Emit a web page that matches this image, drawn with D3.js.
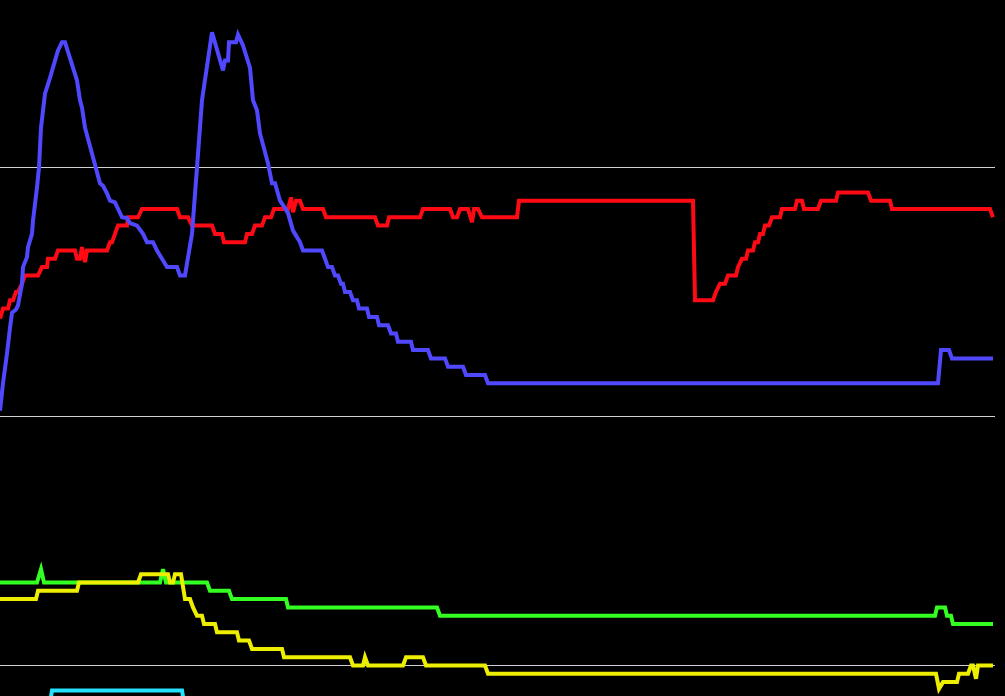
<!DOCTYPE html>
<html><head><meta charset="utf-8">
<script src="https://cdn.jsdelivr.net/npm/d3@7"></script>
<style>html,body{margin:0;padding:0;background:#000;overflow:hidden}</style>
</head><body>
<script>
// x: sample position, y: value
const blueX = [0,0.3,0.7,1.0,1.2,1.6,1.8,2.2,2.3,2.7,2.8,3.2,3.3,3.7,3.9,4.1,4.5,5.0,5.7,5.8,6.2,6.5,7.7,8.0,8.2,8.5,10.0,10.3,10.7,11.0,11.5,12.2,12.7,13.0,13.7,14.3,14.7,15.3,15.7,16.2,16.7,17.7,18.0,18.5,19.2,19.7,20.2,21.2,22.3,22.5,22.8,22.9,23.6,23.8,24.3,25.0,25.3,25.7,26.0,26.8,27.2,27.5,28.0,28.5,28.8,29.3,29.5,30.0,30.3,32.2,32.5,32.8,33.2,33.5,33.8,34.1,34.3,34.5,35.0,35.3,35.7,35.9,36.7,36.9,37.7,37.9,38.8,39.1,39.6,39.8,41.1,41.3,42.8,43.1,44.5,44.8,46.3,46.6,48.5,48.8,93.8,94.1,94.9,95.2,99.3];
const blueY = [30.7,34.0,37.6,40.7,42.5,42.9,43.4,46.0,48.0,49.2,50.4,52.0,53.6,57.6,60.0,64.8,68.9,70.8,73.7,74.1,75.1,75.1,70.5,68.1,67.2,64.8,58.1,57.8,56.9,56.0,55.8,54.0,53.9,53.3,53.0,52.0,51.0,51.0,50.0,49.0,48.0,48.0,47.0,47.0,52.0,60.0,68.1,76.3,71.7,72.9,72.9,75.1,75.1,76.0,74.7,72.0,68.1,66.9,64.1,60.5,58.1,58.1,56.0,55.1,54.5,52.4,52.0,51.0,50,50,49,48,48,47,47,46,46,45,45,44,44,43,43,42,42,41,41,40,40,39,39,38,38,37,37,36,36,35,35,34,34,38,38,37,37];

const redX = [0,0.3,0.8,1.0,1.3,1.6,1.8,2.2,2.5,3.8,4.2,4.7,4.8,5.5,5.8,7.5,7.7,8.0,8.2,8.5,8.7,10.7,11.0,11.2,11.5,11.8,12.7,12.8,13.8,14.2,17.7,18.0,18.8,19.2,21.2,21.5,22.2,22.4,24.5,24.7,25.2,25.5,26.2,26.5,27.1,27.4,28.8,29.1,29.3,29.6,30.0,30.3,32.3,32.6,37.5,37.8,38.7,38.9,42.0,42.3,45.0,45.3,45.7,46.0,46.8,47.2,47.4,47.8,48.2,51.7,51.9,69.3,69.5,71.3,71.6,72.0,72.5,72.8,73.6,73.8,74.2,74.6,74.8,75.3,75.5,75.8,76.0,76.3,76.5,76.9,77.2,78.0,78.2,79.5,79.7,80.2,80.4,81.8,82.1,83.6,83.8,86.8,87.1,89.0,89.2,99.0,99.3];
const redY = [41.8,43,43,44,44,45,45,46,47,47,48,48,49,49,50,50,49,49,50.4,48.6,50,50,51,51,52,53,53,54,54,55,55,54,54,53,53,52,52,51,51,52,52,53,53,54,54,55,55,56.4,54.6,56,56,55,55,54,54,53,53,54,54,55,55,54,54,55,55,53.4,55,55,54,54,56,56,44,44,45,46,46,47,47,48,49,49,50,50,51,51,52,52,53,53,54,54,55,55,56,56,55,55,56,56,57,57,56,56,55,55,54];

const greenX = [0,3.7,4.1,4.4,16.0,16.3,16.6,20.7,21.0,22.9,23.2,28.6,28.8,43.7,44.0,93.5,93.7,94.5,94.7,95.1,95.3,99.3];
const greenY = [10,10,11.6,10,10,11.6,10,10,9,9,8,8,7,7,6,6,7,7,6,6,5,5];

const yellowX = [0,3.6,3.8,7.7,7.9,13.8,14.1,16.8,17.0,17.3,17.5,18.1,18.5,19.0,19.3,19.7,20.2,20.4,21.5,21.7,23.7,23.9,24.9,25.2,28.2,28.4,35.0,35.3,36.3,36.5,36.8,40.3,40.6,42.3,42.6,48.5,48.8,93.6,93.9,94.3,95.7,95.9,96.8,97.1,97.3,97.6,97.8,99.3];
const yellowY = [8,8,9,9,10,10,11,11,10,10,11,11,8,8,7,6,6,5,5,4,4,3,3,2,2,1,1,0,0,1,0,0,1,1,0,0,-1,-1,-2.8,-2,-2,-1,-1,0,0,-1.6,0,0];

const cyanX = [0,4.8,5.2,18.2,18.6,99.3];
const cyanY = [-6,-6,-3,-3,-6,-6];

const gridValues = [0, 30, 60];

const W = 1005, H = 696;
const svg = d3.select("body").append("svg").attr("width", W).attr("height", H)
  .style("background", "#000").style("display","block");

const x = d3.scaleLinear().domain([0, 99.5]).range([0, 995]);
const y = d3.scaleLinear().domain([0, 80]).range([665.5, 1.5]);

svg.append("g").selectAll("line").data(gridValues).join("line")
  .attr("x1", x(0)).attr("x2", x(99.5))
  .attr("y1", d => Math.floor(y(d)) + 0.5).attr("y2", d => Math.floor(y(d)) + 0.5)
  .attr("stroke", "#d0d0d0").attr("stroke-width", 1);

const line = d3.line().x(d => x(d[0])).y(d => y(d[1]));
const series = [
  {xs: cyanX, ys: cyanY, c: "#22e0ff"},
  {xs: greenX, ys: greenY, c: "#33ff22"},
  {xs: yellowX, ys: yellowY, c: "#eeee00"},
  {xs: redX, ys: redY, c: "#ff0a14"},
  {xs: blueX, ys: blueY, c: "#5048ff"}
];
series.forEach(s => {
  svg.append("path").datum(s.xs.map((v, i) => [v, s.ys[i]]))
    .attr("d", line).attr("fill", "none").attr("stroke", s.c)
    .attr("stroke-width", 4).attr("stroke-linejoin", "miter");
});
</script>
</body></html>
